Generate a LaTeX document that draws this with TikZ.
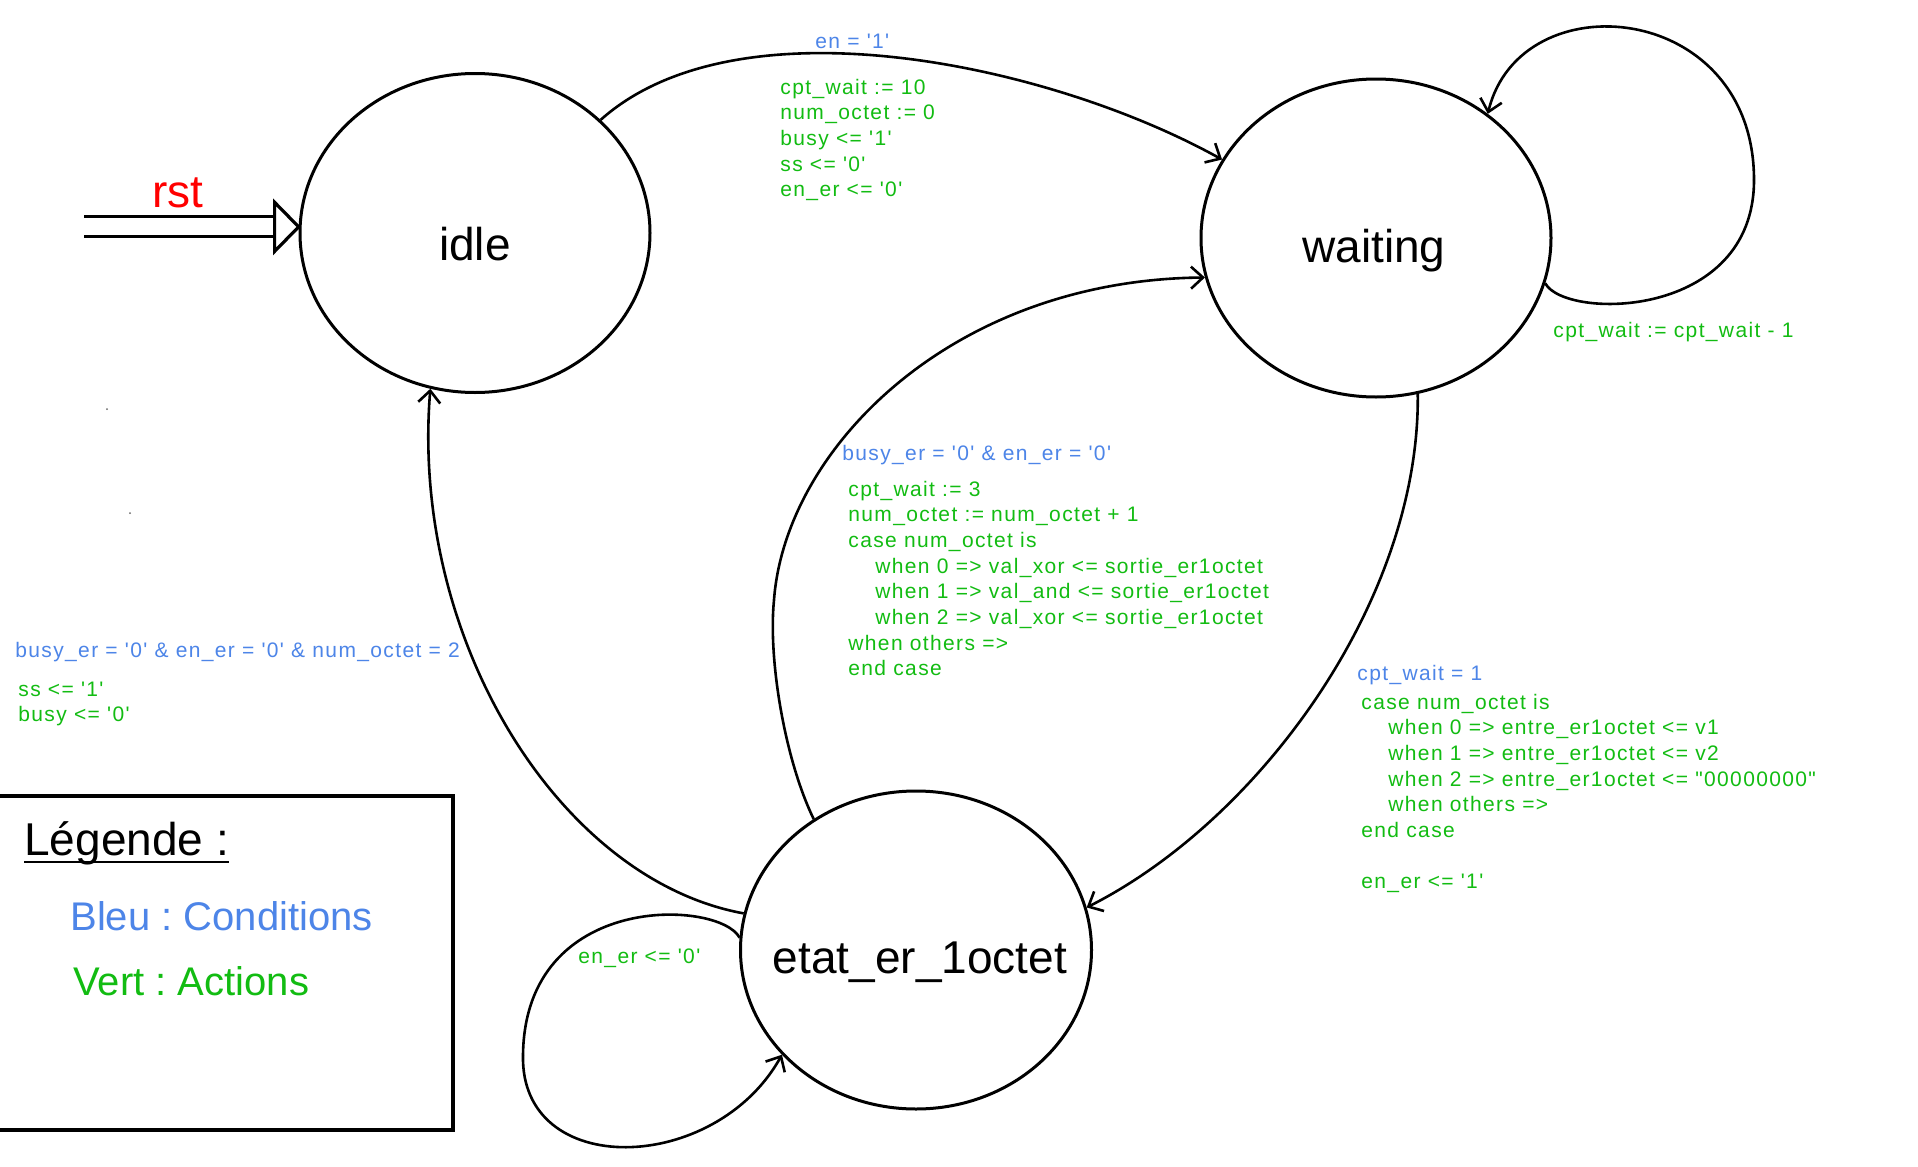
\documentclass[tikz,border=0pt]{standalone}
\usepackage{fontspec}
\setmainfont{Liberation Sans}[Ligatures=TeXOff]
\newfontfamily\bigf{Liberation Sans}[Ligatures=TeXOff]
\newfontfamily\smallf{Liberation Sans}[Ligatures=TeXOff,LetterSpace=6.5]
\usetikzlibrary{shapes.geometric,arrows.meta,calc}
\definecolor{cblue}{RGB}{77,133,232}
\definecolor{cgreen}{RGB}{18,188,18}
\newcommand{\blk}[1]{\begin{tabular}[t]{@{}l@{}}#1\end{tabular}}
\newcommand{\ind}{\hspace*{13.5pt}}
\frenchspacing
\begin{document}
\frenchspacing
\begin{tikzpicture}[x=0.5pt,y=-0.5pt,
  state/.style={draw,ellipse,line width=1.5pt,minimum width=175pt,minimum height=159.5pt,inner sep=0pt},
  statetxt/.style={font=\bigf\fontsize{23}{27}\selectfont,anchor=base,inner sep=0pt},
  smalltxt/.style={font=\smallf\fontsize{10.5}{12.85}\selectfont,anchor=base west,inner sep=0pt},
  cond/.style={smalltxt,text=cblue},
  act/.style={smalltxt,text=cgreen},
  conn/.style={line width=1.3pt,-{Straight Barb[length=6pt,width=11pt,line width=1.3pt]}},
  loopline/.style={line width=1.3pt}]
\useasboundingbox (0,0) rectangle (1918,1167);
\fill[white] (0,0) rectangle (1918,1167);

% states
\node[state] (idle) at (475,233) {};
\node[statetxt] (idleT) at (475,260) {idle};
\node[state,minimum height=159pt] (waiting) at (1376,238) {};
\node[statetxt] (waitingT) at (1374,262) {waiting};
\node[state,minimum width=175.5pt,minimum height=159pt] (etat) at (916,950) {};
\node[statetxt] (etatT) at (920,973) {etat\_er\_1octet};

% reset arrow
\coordinate (rstT) at (idle.178);
\draw[line width=1.6pt] ($(rstT)+(-24,-10.5)$) -- +(-191,0);
\draw[line width=1.6pt] ($(rstT)+(-24,9.5)$) -- +(-191,0);
\draw[line width=1.6pt,fill=white,line join=miter] ($(rstT)+(-24,-24.5)$) -- (rstT) -- ($(rstT)+(-24,24.5)$) -- cycle;
\node[statetxt,text=red] (rstL) at (178,207) {rst};

% idle -> waiting
\draw[conn] (idle.42) .. controls (738,-3) and (1050,64) .. (waiting.153);
\node[cond] (l1c) at (815,48) {en = '1'};
\node[act] (l1a) at (780,94) {\blk{cpt\_wait := 10\\num\_octet := 0\\busy <= '1'\\ss <= '0'\\en\_er <= '0'}};

% waiting self loop
\coordinate (wl) at (1754,180);
\draw[loopline] (waiting.345) .. controls (1565,320) and (1754,320) .. (wl);
\draw[conn] (wl) .. controls (1754,0) and (1520,-20) .. (waiting.48);
\node[act] (l5a) at (1553,337) {cpt\_wait := cpt\_wait - 1};

% etat -> waiting
\coordinate (bm) at (774,600);
\draw[loopline] (etat.128) .. controls (785,760) and (768,660) .. (bm);
\draw[conn] (bm) .. controls (785,450) and (950,280) .. (waiting.193);
\node[cond] (l2c) at (842,460) {busy\_er = '0' \& en\_er = '0'};
\node[act] (l2a) at (848,496) {\blk{cpt\_wait := 3\\num\_octet := num\_octet + 1\\case num\_octet is\\
\ind when 0 => val\_xor <= sortie\_er1octet\\
\ind when 1 => val\_and <= sortie\_er1octet\\
\ind when 2 => val\_xor <= sortie\_er1octet\\
when others =>\\end case}};

% waiting -> etat
\draw[conn] (waiting.285) .. controls (1420,600) and (1260,820) .. (etat.14);
\node[cond] (l3c) at (1357,680) {cpt\_wait = 1};
\node[act] (l3a) at (1361,709) {\blk{case num\_octet is\\
\ind when 0 => entre\_er1octet <= v1\\
\ind when 1 => entre\_er1octet <= v2\\
\ind when 2 => entre\_er1octet <= "00000000"\\
\ind when others =>\\end case\\ \\en\_er <= '1'}};

% etat -> idle
\draw[conn] (etat.168) .. controls (560,880) and (410,640) .. (idle.254);
\node[cond] (l4c) at (15,657) {busy\_er = '0' \& en\_er = '0' \& num\_octet = 2};
\node[act] (l4a) at (18,696) {\blk{ss <= '1'\\busy <= '0'}};

% etat self loop
\coordinate (el) at (523,1055);
\draw[loopline] (etat.176) .. controls (720,900) and (525,890) .. (el);
\draw[conn] (el) .. controls (520,1180) and (715,1175) .. (etat.218);
\node[act] (l6a) at (578,963) {en\_er <= '0'};

% specks
\fill[black!60] (107,409) circle[radius=1];
\fill[black!60] (130,513) circle[radius=1];

% legend
\draw[line width=1.6pt] (-10,796) rectangle (453,1130);
\node[font=\bigf\fontsize{23}{27}\selectfont,anchor=base west,inner sep=0pt] (legT) at (24,855) {Légende :};
\draw[line width=1pt] ($(legT.base west)+(0,7)$) -- ($(legT.base east)+(0,7)$);
\node[font=\bigf\fontsize{20}{24}\selectfont,anchor=base west,inner sep=0pt,text=cblue] (legB) at (70,930) {Bleu : Conditions};
\node[font=\bigf\fontsize{20}{24}\selectfont,anchor=base west,inner sep=0pt,text=cgreen] (legV) at (73,995) {Vert : Actions};
\end{tikzpicture}
\end{document}
